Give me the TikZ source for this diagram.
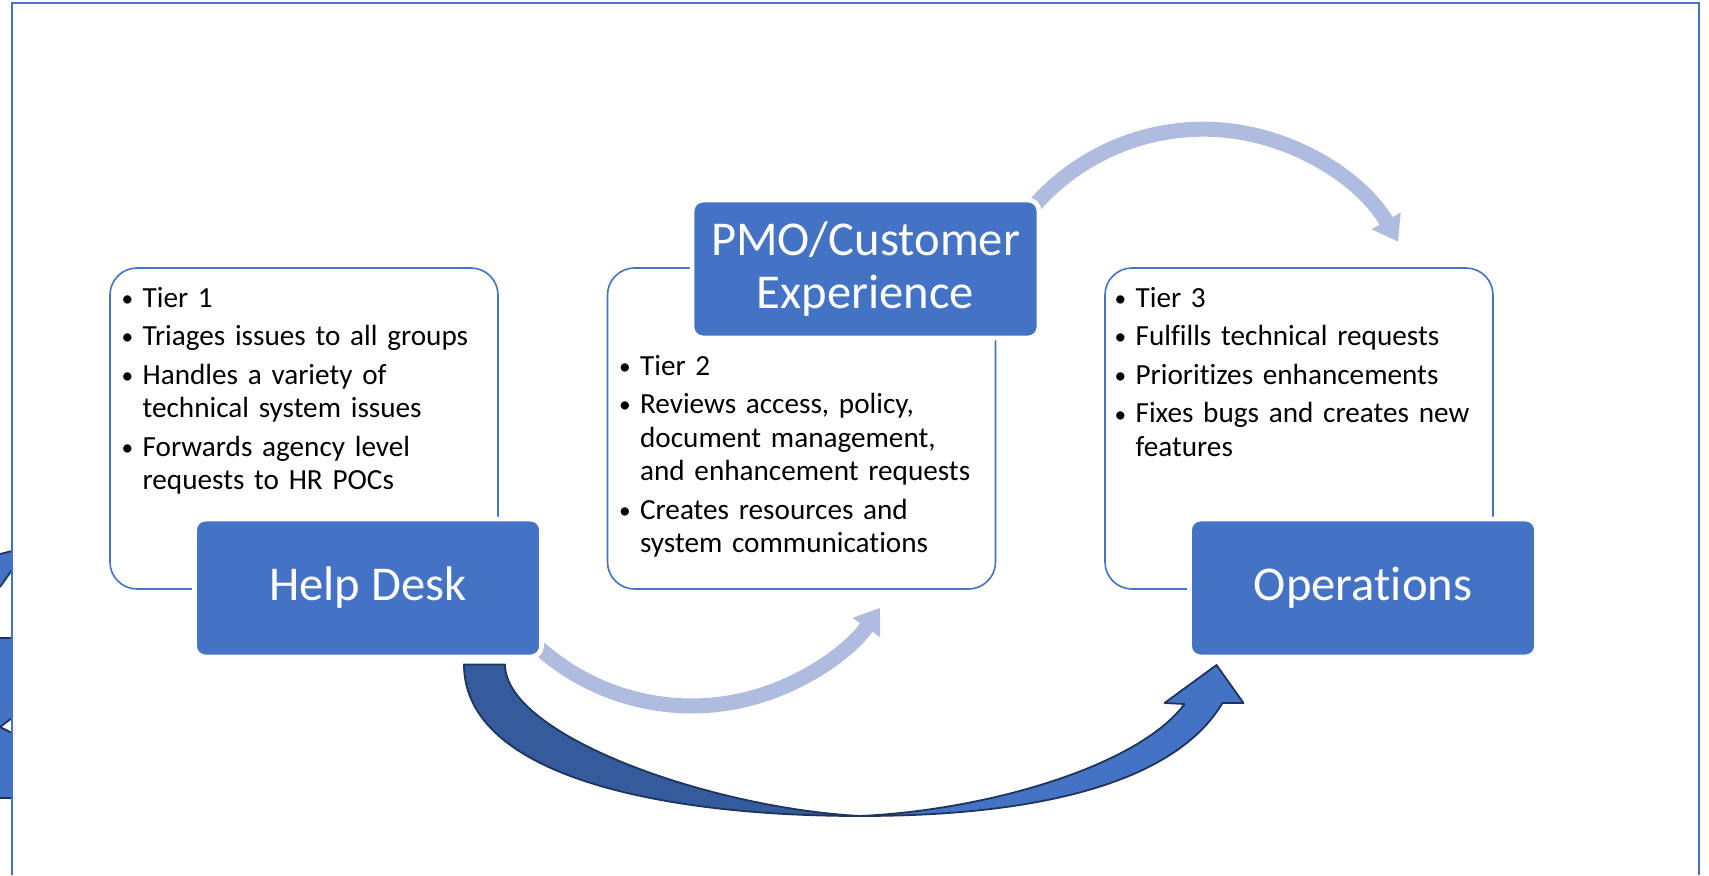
\documentclass[tikz,border=0pt]{standalone}
\usepackage{fontspec}
\setmainfont{Carlito}[Ligatures=NoCommon]
\usetikzlibrary{calc, arrows.meta, backgrounds}

\definecolor{boxblue}{RGB}{68,114,196}
\definecolor{arclight}{RGB}{175,188,223}
\definecolor{arrowdark}{RGB}{53,91,156}
\definecolor{arrowline}{RGB}{31,52,92}

% one bullet point, continuation lines hang under the text
\newcommand{\tieritem}[1]{\noindent\hangindent=10.5pt\hangafter=1%
    \makebox[10.5pt][l]{\raisebox{0.4pt}{\scalebox{0.8}{\textbullet}}}#1\par}

\begin{document}
\begin{tikzpicture}[x=0.5pt, y=0.5pt,
        tierbox/.style={draw=boxblue, line width=0.8pt, rounded corners=13.5pt,
            minimum width=194pt, minimum height=160.5pt, inner sep=0pt},
        headbox/.style={fill=boxblue, draw=white, line width=2.4pt, rounded corners=5.5pt,
            minimum width=173.5pt, minimum height=69pt, inner sep=0pt, align=center,
            text=white, font=\fontsize{24.3}{26.5}\selectfont},
        tierlist/.style={anchor=base west, inner sep=0pt, text width=215pt, align=left,
            font=\fontsize{14.6}{16.7}\selectfont,
            execute at begin node={\setlength{\parskip}{2.6pt}}},
        lightarc/.style={draw=arclight, line width=7.5pt, -{Triangle[width=16pt, length=12pt]}},
        darkarrow/.style={draw=arrowline, line width=0.9pt, line join=round},
    ]
        % Parameters
        \def\gap{497.5} % distance between the tier boxes
        \def\dx{64}     % shift of a title box against its tier box
        \def\dy{159.5}

        \useasboundingbox (0,0) rectangle (1709,875);

        % Pieces of a shape cut off at the left border
        \fill[boxblue] (0,321) -- (12,324) -- (12,305) -- (0,288) -- cycle;
        \draw[darkarrow] (0,321) -- (12,324);
        \draw[darkarrow] (0,288) -- (12,305);
        \fill[boxblue] (0,237) -- (12,237) -- (12,157) -- (0,148) -- (12,142) -- (12,77) -- (0,77) -- cycle;
        \draw[darkarrow] (0,237) -- (12,237);
        \draw[darkarrow] (12,157) -- (0,148) -- (12,142);
        \draw[darkarrow] (0,77) -- (12,77);

        % Border
        \draw[boxblue, line width=1pt] (12,0) -- (12,872) -- (1699,872) -- (1699,0);

        % Tier boxes
        \node[tierbox] (tierone) at (304,446.5) {};
        \node[tierbox] (tiertwo) at ($(tierone)+(\gap,0)$) {};
        \node[tierbox] (tierthree) at ($(tiertwo)+(\gap,0)$) {};

        % Title boxes
        \node[headbox] (helpdesk) at ($(tierone)+(\dx,-\dy)$) {Help Desk};
        \node[headbox] (pmo) at ($(tiertwo)+(\dx,\dy)$) {PMO/Customer\\Experience};
        \node[headbox] (operations) at ($(tierthree)+(\dx,-\dy)$) {Operations};

        % Bullet lists
        \node[tierlist] (tieronelist) at ($(tierone.north west)+(12,-40)$) {%
            \tieritem{Tier 1}%
            \tieritem{Triages issues to all groups}%
            \tieritem{Handles a variety of\newline technical system issues}%
            \tieritem{Forwards agency level\newline requests to HR POCs}};
        \node[tierlist] (tiertwolist) at ($(tiertwo.north west)+(12,-108)$) {%
            \tieritem{Tier 2}%
            \tieritem{Reviews access, policy,\newline document management,\newline and enhancement requests}%
            \tieritem{Creates resources and\newline system communications}};
        \node[tierlist] (tierthreelist) at ($(tierthree.north west)+(10,-40)$) {%
            \tieritem{Tier 3}%
            \tieritem{Fulfills technical requests}%
            \tieritem{Prioritizes enhancements}%
            \tieritem{Fixes bugs and creates new\newline features}};

        % Light arcs, behind the title boxes
        \begin{pgfonlayer}{background}
            \draw[lightarc] ($(helpdesk.south east)+(-12,18)$) arc[start angle=226, end angle=325, radius=230];
            \draw[lightarc] ($(pmo.north east)+(-13,-15)$) arc[start angle=141, end angle=30, radius=225];
        \end{pgfonlayer}

        % Big arrow from Help Desk round to Operations
        \coordinate (darkstart) at ($(helpdesk.south)+(96,-5)$);
        \coordinate (darktip) at ($(operations.south)+(-146.5,-5.6)$);
        \coordinate (darklow) at (860,59);
        % shaded back part
        \filldraw[darkarrow, fill=arrowdark] (darkstart)
            .. controls +(0,-111) and +(-200,0) .. (darklow)
            .. controls +(-150,8) and +(0,-71) .. ($(darkstart)+(41,0)$) -- cycle;
        % front part with the head
        \filldraw[darkarrow, fill=boxblue] (darklow)
            .. controls +(200,0) and +(-43,-72) .. ($(darktip)+(6,-38)$)
            -- ($(darktip)+(27,-38)$) -- (darktip) -- ($(darktip)+(-52,-38)$)
            -- ($(darktip)+(-32,-39)$)
            .. controls +(-45,-61) and +(130,6) .. (darklow) -- cycle;

    \end{tikzpicture}
\end{document}
